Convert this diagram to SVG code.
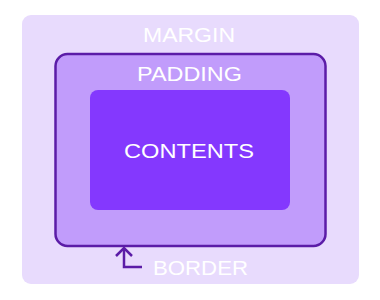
<svg xmlns="http://www.w3.org/2000/svg" width="380" height="300" viewBox="0 0 380 300">
<style>
.lbl{font-family:"Liberation Sans",Arial,sans-serif;font-size:21px;fill:#ffffff;text-anchor:middle}
.conn{fill:none;stroke:#5b1ca7;stroke-width:2.5;stroke-linecap:butt;stroke-linejoin:miter}
</style>
<rect width="380" height="300" fill="#ffffff"/>
<g id="margin">
<rect x="22" y="15" width="337" height="269" rx="9" fill="#e8dbfd"/>
<text class="lbl" x="189" y="42" textLength="92" lengthAdjust="spacingAndGlyphs">MARGIN</text>
</g>
<g id="padding">
<rect x="55.5" y="54" width="270" height="192" rx="12" fill="#c19cfb" stroke="#5b1ca7" stroke-width="2.5"/>
<text class="lbl" x="189.5" y="81" textLength="105" lengthAdjust="spacingAndGlyphs">PADDING</text>
</g>
<g id="contents">
<rect x="90" y="90" width="200" height="120" rx="8" fill="#8438fe"/>
<text class="lbl" x="189" y="158" textLength="130" lengthAdjust="spacingAndGlyphs">CONTENTS</text>
</g>
<g id="border-label">
<text class="lbl" x="200.5" y="275" textLength="95" lengthAdjust="spacingAndGlyphs">BORDER</text>
</g>
<g id="connectors">
<path class="conn" d="M142 267 H124 V249"/>
<path class="conn" d="M116 256 L124 248 L132 256"/>
</g>
</svg>
